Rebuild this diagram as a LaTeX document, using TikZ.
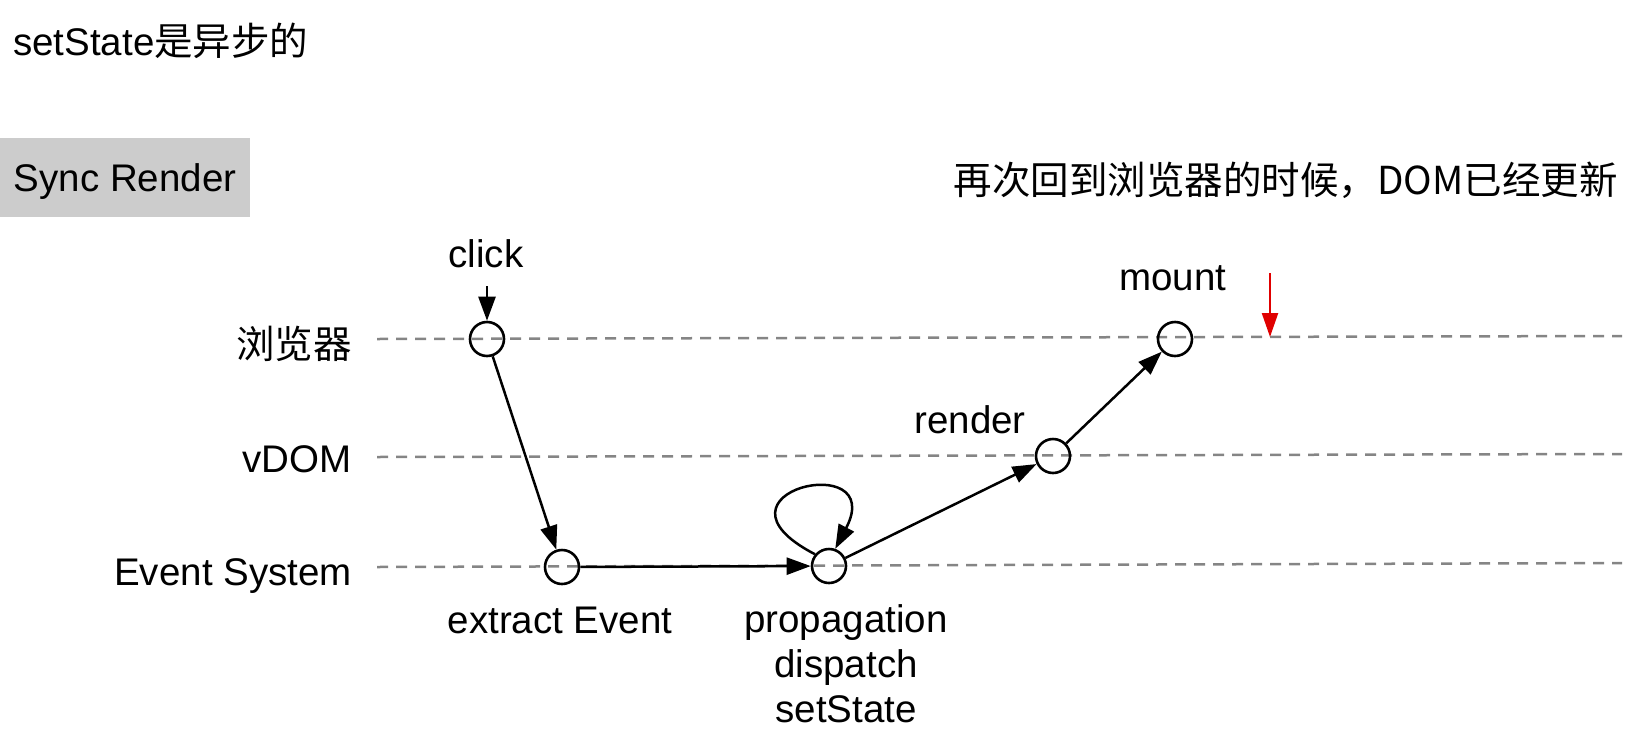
\documentclass[tikz,border=0pt]{standalone}
\usepackage{fontspec}
\setmainfont{Liberation Sans}
\newfontfamily\cjk{Noto Sans CJK SC}
\usetikzlibrary{arrows.meta}
\definecolor{laneGray}{HTML}{858585}
\definecolor{boxGray}{HTML}{CCCCCC}
\definecolor{redArrow}{HTML}{E00000}
\begin{document}
\begin{tikzpicture}[x=1pt,y=-1pt,
  every node/.style={font=\fontsize{38.5}{45}\selectfont, inner sep=0pt},
  lane/.style={draw=laneGray, line width=2.5pt, dash pattern=on 11pt off 8pt},
  evt/.style={draw, circle, minimum size=34pt, line width=2.6pt},
  arr/.style={draw, line width=2.5pt, -{Triangle[length=24pt,width=17pt]}},
  lbl/.style={anchor=base}
]
\useasboundingbox (0,0) rectangle (1635,742);

% title and header
\node[anchor=base west] (title) at (13,55) {setState\cjk{是异步的}};
\node[fill=boxGray, anchor=north west, minimum width=250pt, minimum height=79pt, text depth=0pt] (sync) at (0,138) {Sync Render};
\node[anchor=base east] (note) at (1618,194) {\cjk{再次回到浏览器的时候，}DOM\cjk{已经更新}};

% lanes
\node[anchor=base east] (lbrowser) at (352,358) {\cjk{浏览器}};
\node[anchor=base east] (lvdom) at (352,472) {vDOM};
\node[anchor=base east] (levent) at (352,585) {Event System};
\coordinate (b1) at (377,339); \coordinate (b2) at (1622,336);
\coordinate (v1) at (377,457); \coordinate (v2) at (1622,454);
\coordinate (e1) at (377,567); \coordinate (e2) at (1622,563);
\draw[lane] (b1) -- (b2);
\draw[lane] (v1) -- (v2);
\draw[lane] (e1) -- (e2);

% event nodes
\node[evt] (clk) at (487,339) {};
\node[evt] (ext) at (562,567) {};
\node[evt] (prop) at (829,566) {};
\node[evt] (rend) at (1053,456) {};
\node[evt] (mnt) at (1175,339) {};

% labels
\node[lbl] (lclick) at (486,267) {click};
\node[lbl] (lext) at (560,633) {extract Event};
\node[lbl] (lprop) at (846,632) {propagation};
\node[lbl] (ldisp) at (846,677) {dispatch};
\node[lbl] (lset) at (846,722) {setState};
\node[lbl] (lrend) at (970,433) {render};
\node[lbl] (lmnt) at (1173,290) {mount};

% connectors
\coordinate (clkstart) at (487,286);
\draw[arr] (clkstart) -- (clk);
\draw[arr] (clk) -- (ext);
\draw[arr] (ext) -- (prop);
\draw[arr] (prop.140) .. controls (695,492) and (888,448) .. (prop.70);
\draw[arr] (prop) -- (rend);
\draw[arr] (rend) -- (mnt);

% red marker
\coordinate (rtop) at (1270,273);
\coordinate (rbot) at (1270,337);
\draw[draw=redArrow, line width=2.3pt, -{Triangle[length=24pt,width=16pt]}, redArrow] (rtop) -- (rbot);
\end{tikzpicture}
\end{document}
